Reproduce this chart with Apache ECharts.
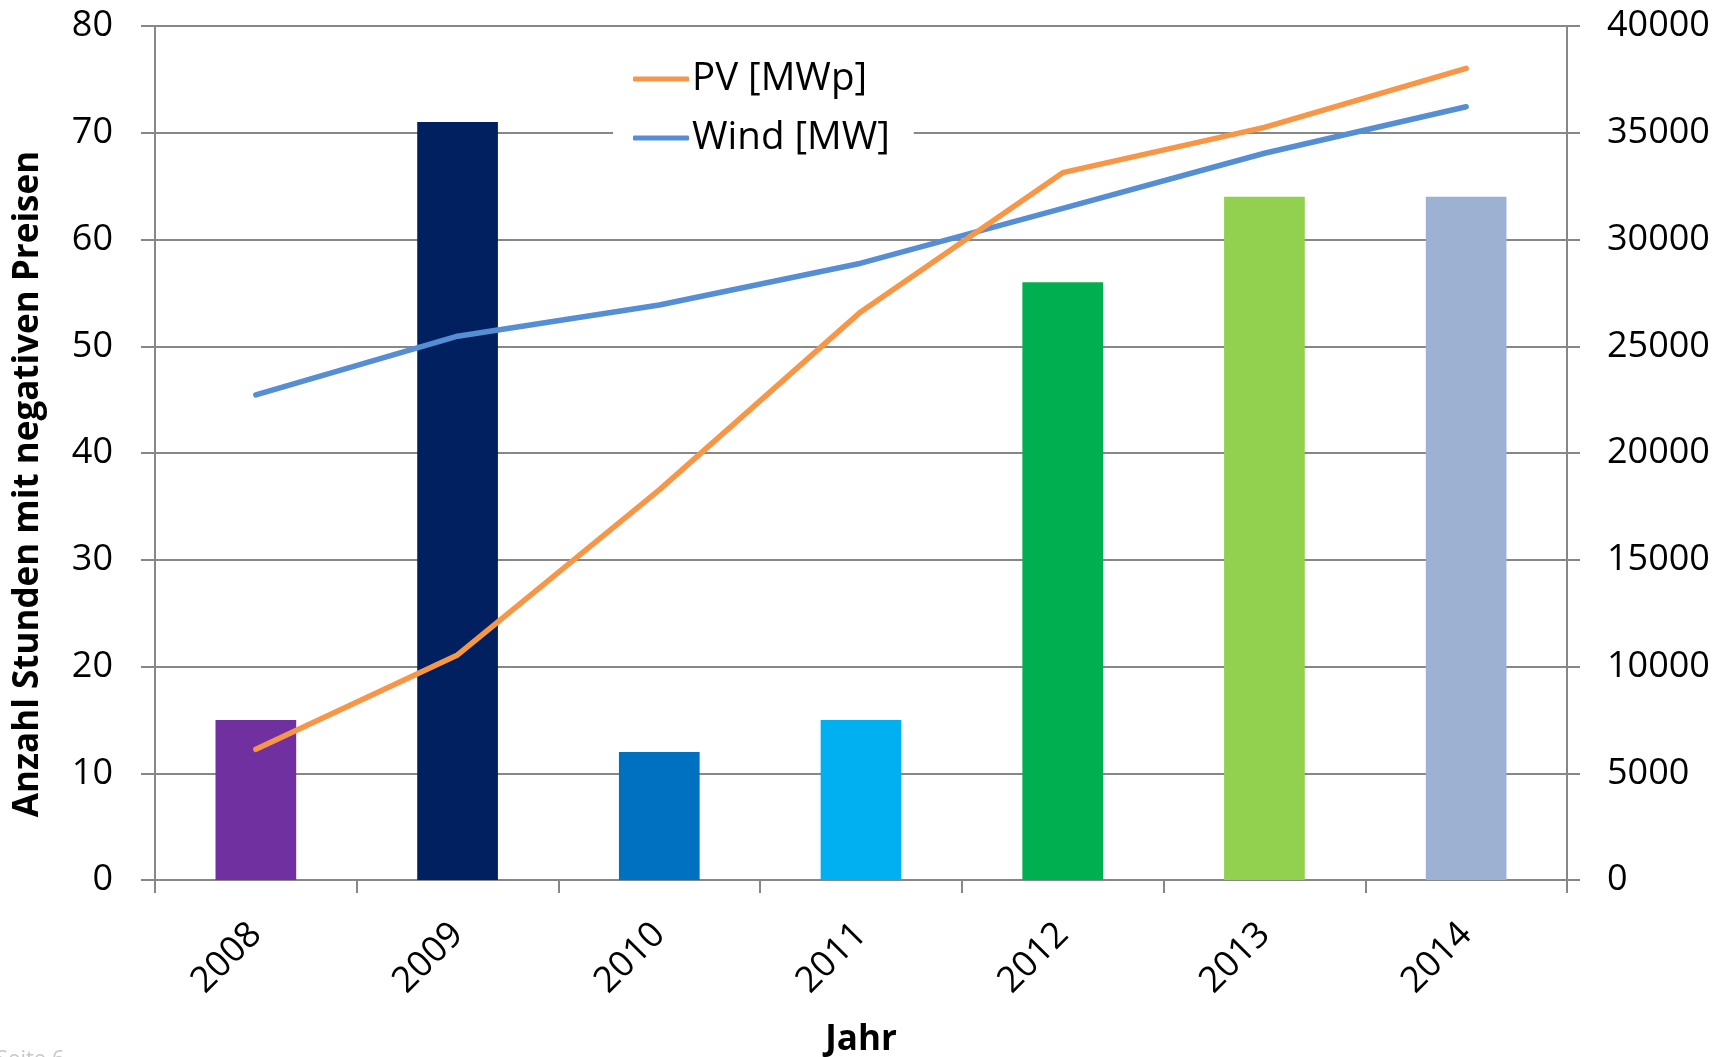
<!DOCTYPE html>
<html>
<head>
<meta charset="utf-8">
<script src="https://cdn.jsdelivr.net/npm/echarts@6/dist/echarts.min.js"></script>
<style>
  html, body { margin: 0; padding: 0; background: #fff; }
  #chart { width: 1734px; height: 1057px; }
</style>
</head>
<body>
<div id="chart"></div>
<script>
// Jahre auf der Kategorienachse
const years = ['2008', '2009', '2010', '2011', '2012', '2013', '2014'];
// Anzahl Stunden mit negativen Strompreisen (linke Achse)
const negativeHours = [15, 71, 12, 15, 56, 64, 64];
// Farbe je Jahr für die Balken
const barColors = ['#7030A0', '#002060', '#0070C0', '#00B0F0', '#00B050', '#92D050', '#9DB1D3'];
// Installierte Leistung (rechte Achse)
const pvCapacity = [6120, 10540, 18270, 26620, 33130, 35250, 38020];
const windCapacity = [22720, 25470, 26930, 28890, 31460, 34040, 36220];
// Beschriftung der Achsen
const leftTicks = { min: 0, max: 80, interval: 10 };
const rightTicks = { min: 0, max: 40000, interval: 5000 };

const FONT = 'Open Sans';
const AXIS_GREY = '#878787';

const chart = echarts.init(document.getElementById('chart'), null, { renderer: 'canvas' });

chart.setOption({
  animation: false,
  backgroundColor: '#ffffff',
  textStyle: { fontFamily: FONT, color: '#000' },
  grid: { left: 155, right: 167, top: 26, bottom: 177, containLabel: false },
  legend: {
    data: ['PV [MWp]', 'Wind [MW]'],
    orient: 'vertical',
    left: 613,
    top: 49,
    padding: [10, 24, 10, 20],
    backgroundColor: '#ffffff',
    icon: 'roundRect',
    itemWidth: 56,
    itemHeight: 5,
    itemGap: 19,
    textStyle: { fontFamily: FONT, fontSize: 38.5, color: '#000', lineHeight: 40, padding: [0, 0, 0, -2] }
  },
  xAxis: {
    type: 'category',
    data: years,
    boundaryGap: true,
    axisLine: { show: true, lineStyle: { color: AXIS_GREY, width: 2 } },
    axisTick: { show: true, alignWithLabel: false, length: 13, lineStyle: { color: AXIS_GREY, width: 2 } },
    axisLabel: {
      rotate: 45,
      margin: 49,
      fontFamily: FONT,
      fontSize: 36,
      color: '#000',
      verticalAlign: 'middle'
    },
    splitLine: { show: false }
  },
  yAxis: [
    {
      type: 'value',
      position: 'left',
      min: leftTicks.min,
      max: leftTicks.max,
      interval: leftTicks.interval,
      axisLine: { show: true, lineStyle: { color: AXIS_GREY, width: 2 } },
      axisTick: { show: true, length: 14, lineStyle: { color: AXIS_GREY, width: 2 } },
      axisLabel: { margin: 42, fontFamily: FONT, fontSize: 36, color: '#000' },
      splitLine: { show: true, lineStyle: { color: AXIS_GREY, width: 2 } }
    },
    {
      type: 'value',
      position: 'right',
      min: rightTicks.min,
      max: rightTicks.max,
      interval: rightTicks.interval,
      axisLine: { show: true, lineStyle: { color: AXIS_GREY, width: 2 } },
      axisTick: { show: true, length: 13, lineStyle: { color: AXIS_GREY, width: 2 } },
      axisLabel: {
        margin: 40,
        fontFamily: FONT,
        fontSize: 36,
        color: '#000',
        formatter: (v) => String(v)
      },
      splitLine: { show: false }
    }
  ],
  series: [
    {
      name: 'Stunden',
      type: 'bar',
      yAxisIndex: 0,
      barWidth: '40%',
      data: negativeHours.map((v, i) => ({ value: v, itemStyle: { color: barColors[i] } })),
      z: 2
    },
    {
      name: 'PV [MWp]',
      type: 'line',
      yAxisIndex: 1,
      data: pvCapacity,
      symbol: 'none',
      color: '#F79646',
      lineStyle: { color: '#F79646', width: 5.5, cap: 'round', join: 'round' },
      z: 4
    },
    {
      name: 'Wind [MW]',
      type: 'line',
      yAxisIndex: 1,
      data: windCapacity,
      symbol: 'none',
      color: '#558ED5',
      lineStyle: { color: '#558ED5', width: 5.5, cap: 'round', join: 'round' },
      z: 3
    }
  ],
  graphic: [
    {
      type: 'text',
      x: 28,
      y: 484,
      rotation: Math.PI / 2,
      style: {
        text: 'Anzahl Stunden mit negativen Preisen',
        fontFamily: FONT,
        fontWeight: 'bold',
        fontSize: 35,
        fill: '#000',
        align: 'center',
        verticalAlign: 'middle'
      }
    },
    {
      type: 'text',
      x: 861,
      y: 1040,
      style: {
        text: 'Jahr',
        fontFamily: FONT,
        fontWeight: 'bold',
        fontSize: 35,
        fill: '#000',
        align: 'center',
        verticalAlign: 'middle'
      }
    },
    {
      type: 'text',
      x: -4,
      y: 1049,
      style: {
        text: 'Seite 6',
        fontFamily: FONT,
        fontSize: 22,
        fill: '#c8c8c8',
        align: 'left',
        verticalAlign: 'top'
      }
    }
  ]
});
</script>
</body>
</html>
